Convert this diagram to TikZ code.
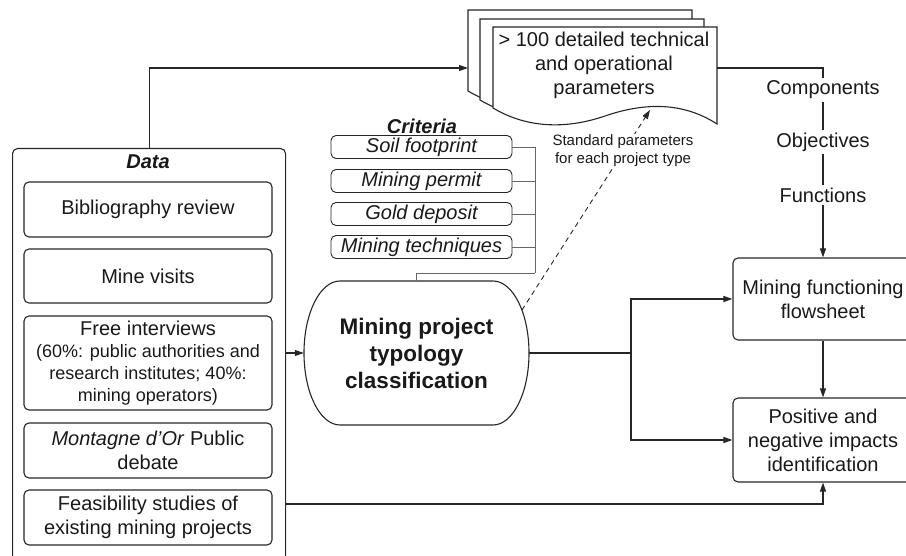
\documentclass[tikz,border=0pt]{standalone}
\usepackage{fontspec}
\setmainfont{Liberation Sans}
\usetikzlibrary{arrows.meta}
\begin{document}
\begin{tikzpicture}[x=1pt,y=-1pt,
  every node/.style={font=\fontsize{20}{24}\selectfont, align=center, inner sep=0pt, text=black!90},
  ln/.style={line width=1.1pt, draw=black!85},
  box/.style={ln, rounded corners=5pt, minimum width=248pt},
  crit/.style={draw=black!85, line width=0.9pt, rounded corners=5pt, minimum width=181pt, minimum height=23pt, font=\itshape\fontsize{20}{24}\selectfont},
  arr/.style={ln, -{Triangle[length=9pt,width=6pt]}},
  brk/.style={draw=black!60, line width=0.8pt},
  lbl/.style={fill=white, inner xsep=1pt, inner ysep=3pt},
  docshape/.style={ln, fill=white}
]
\useasboundingbox (0,0) rectangle (906,556);

% Data container
\node[ln, draw, rounded corners=5pt, minimum width=273pt, minimum height=430pt, anchor=north west] (data) at (12,148) {};
\node[font=\bfseries\itshape\fontsize{20}{24}\selectfont] (datat) at (148,162) {Data};
\node[box, minimum height=55pt] (bib) at (148,209.5) {Bibliography review};
\node[box, minimum height=54pt] (mv) at (148,276) {Mine visits};
\node[box, minimum height=94pt, font=\fontsize{18}{22}\selectfont] (fi) at (148,363) {\fontsize{20}{22}\selectfont Free interviews\\(60\%: public authorities and\\research institutes; 40\%:\\mining operators)};
\node[box, minimum height=55pt] (mo) at (148,450.5) {\textit{Montagne d'Or} Public\\debate};
\node[box, minimum height=55pt] (fe) at (148,517.5) {Feasibility studies of\\existing mining projects};

% Criteria
\node[font=\bfseries\itshape\fontsize{20}{24}\selectfont, anchor=base, text depth=0pt] (crt) at (422,133.5) {Criteria};
\node[crit] (c1) at (421.5,147) {Soil footprint};
\node[crit] (c2) at (421.5,181) {Mining permit};
\node[crit] (c3) at (421.5,214) {Gold deposit};
\node[crit] (c4) at (421.5,247) {Mining techniques};

% Mining project typology classification
\node[minimum width=225pt, minimum height=144pt, font=\bfseries\fontsize{22.5}{27}\selectfont] (mp) at (416.5,353) {Mining project\\typology\\classification};
\draw[ln] (340,281) -- (493,281)
  .. controls (512.9,281) and (529,313.2) .. (529,353)
  .. controls (529,392.8) and (512.9,425) .. (493,425) -- (340,425)
  .. controls (320.1,425) and (304,392.8) .. (304,353)
  .. controls (304,313.2) and (320.1,281) .. (340,281) -- cycle;

% Documents stack
\foreach \dx/\dy in {-25/-17,-13/-8,0/0}{
  \filldraw[docshape, shift={(\dx,\dy)}] (493,27) -- (717,27) -- (717,124)
    .. controls (680,100) and (640,104) .. (605,116)
    .. controls (570,128) and (530,130) .. (493,108) -- cycle;
}
\node (doc) at (604,65) {> 100 detailed technical\\and operational\\parameters};

% Right boxes
\node[box, minimum width=180pt, minimum height=82pt] (mf) at (823,299) {Mining functioning\\flowsheet};
\node[box, minimum width=180pt, minimum height=84pt] (pn) at (823,440) {Positive and\\negative impacts\\identification};

% Coordinates
\coordinate (docin) at (468,68);
\coordinate (docout) at (717,68);
\coordinate (fio) at (285,353);
\coordinate (fo) at (285,504);
\coordinate (br) at (631,353);
\coordinate (bj) at (535,273);
\coordinate (bk) at (416.5,273);
\coordinate (ds) at (522,310);
\coordinate (de) at (650,110);

% Criteria bracket
\draw[brk] (c1.east) -| (bj);
\draw[brk] (c2.east) -- (c2.east -| bj);
\draw[brk] (c3.east) -- (c3.east -| bj);
\draw[brk] (c4.east) -- (c4.east -| bj);
\draw[brk] (bj) -- (bk) -- (mp.north);

% Connectors
\draw[arr] (data.north) |- (docin);
\draw[arr] (fio) -- (mp.west);
\draw[ln] (mp.east) -- (br);
\draw[arr] (br) |- (mf.west);
\draw[arr] (br) |- (pn.west);
\draw[arr] (mf.south) -- (pn.north);
\draw[arr] (fo) -| (pn.south);
\draw[arr] (docout) -| (mf.north);
\node[lbl] (comp) at (823,90) {Components};
\node[lbl] (obj) at (823,142) {Objectives};
\node[lbl] (fun) at (823,195) {Functions};

\draw[ln, line width=0.9pt, dash pattern=on 5pt off 4pt, -{Triangle[length=9pt,width=6pt]}] (ds) -- (de);
\node[fill=white, inner sep=1pt, font=\fontsize{15}{18}\selectfont] (std) at (623,151) {Standard parameters\\for each project type};
\end{tikzpicture}
\end{document}
